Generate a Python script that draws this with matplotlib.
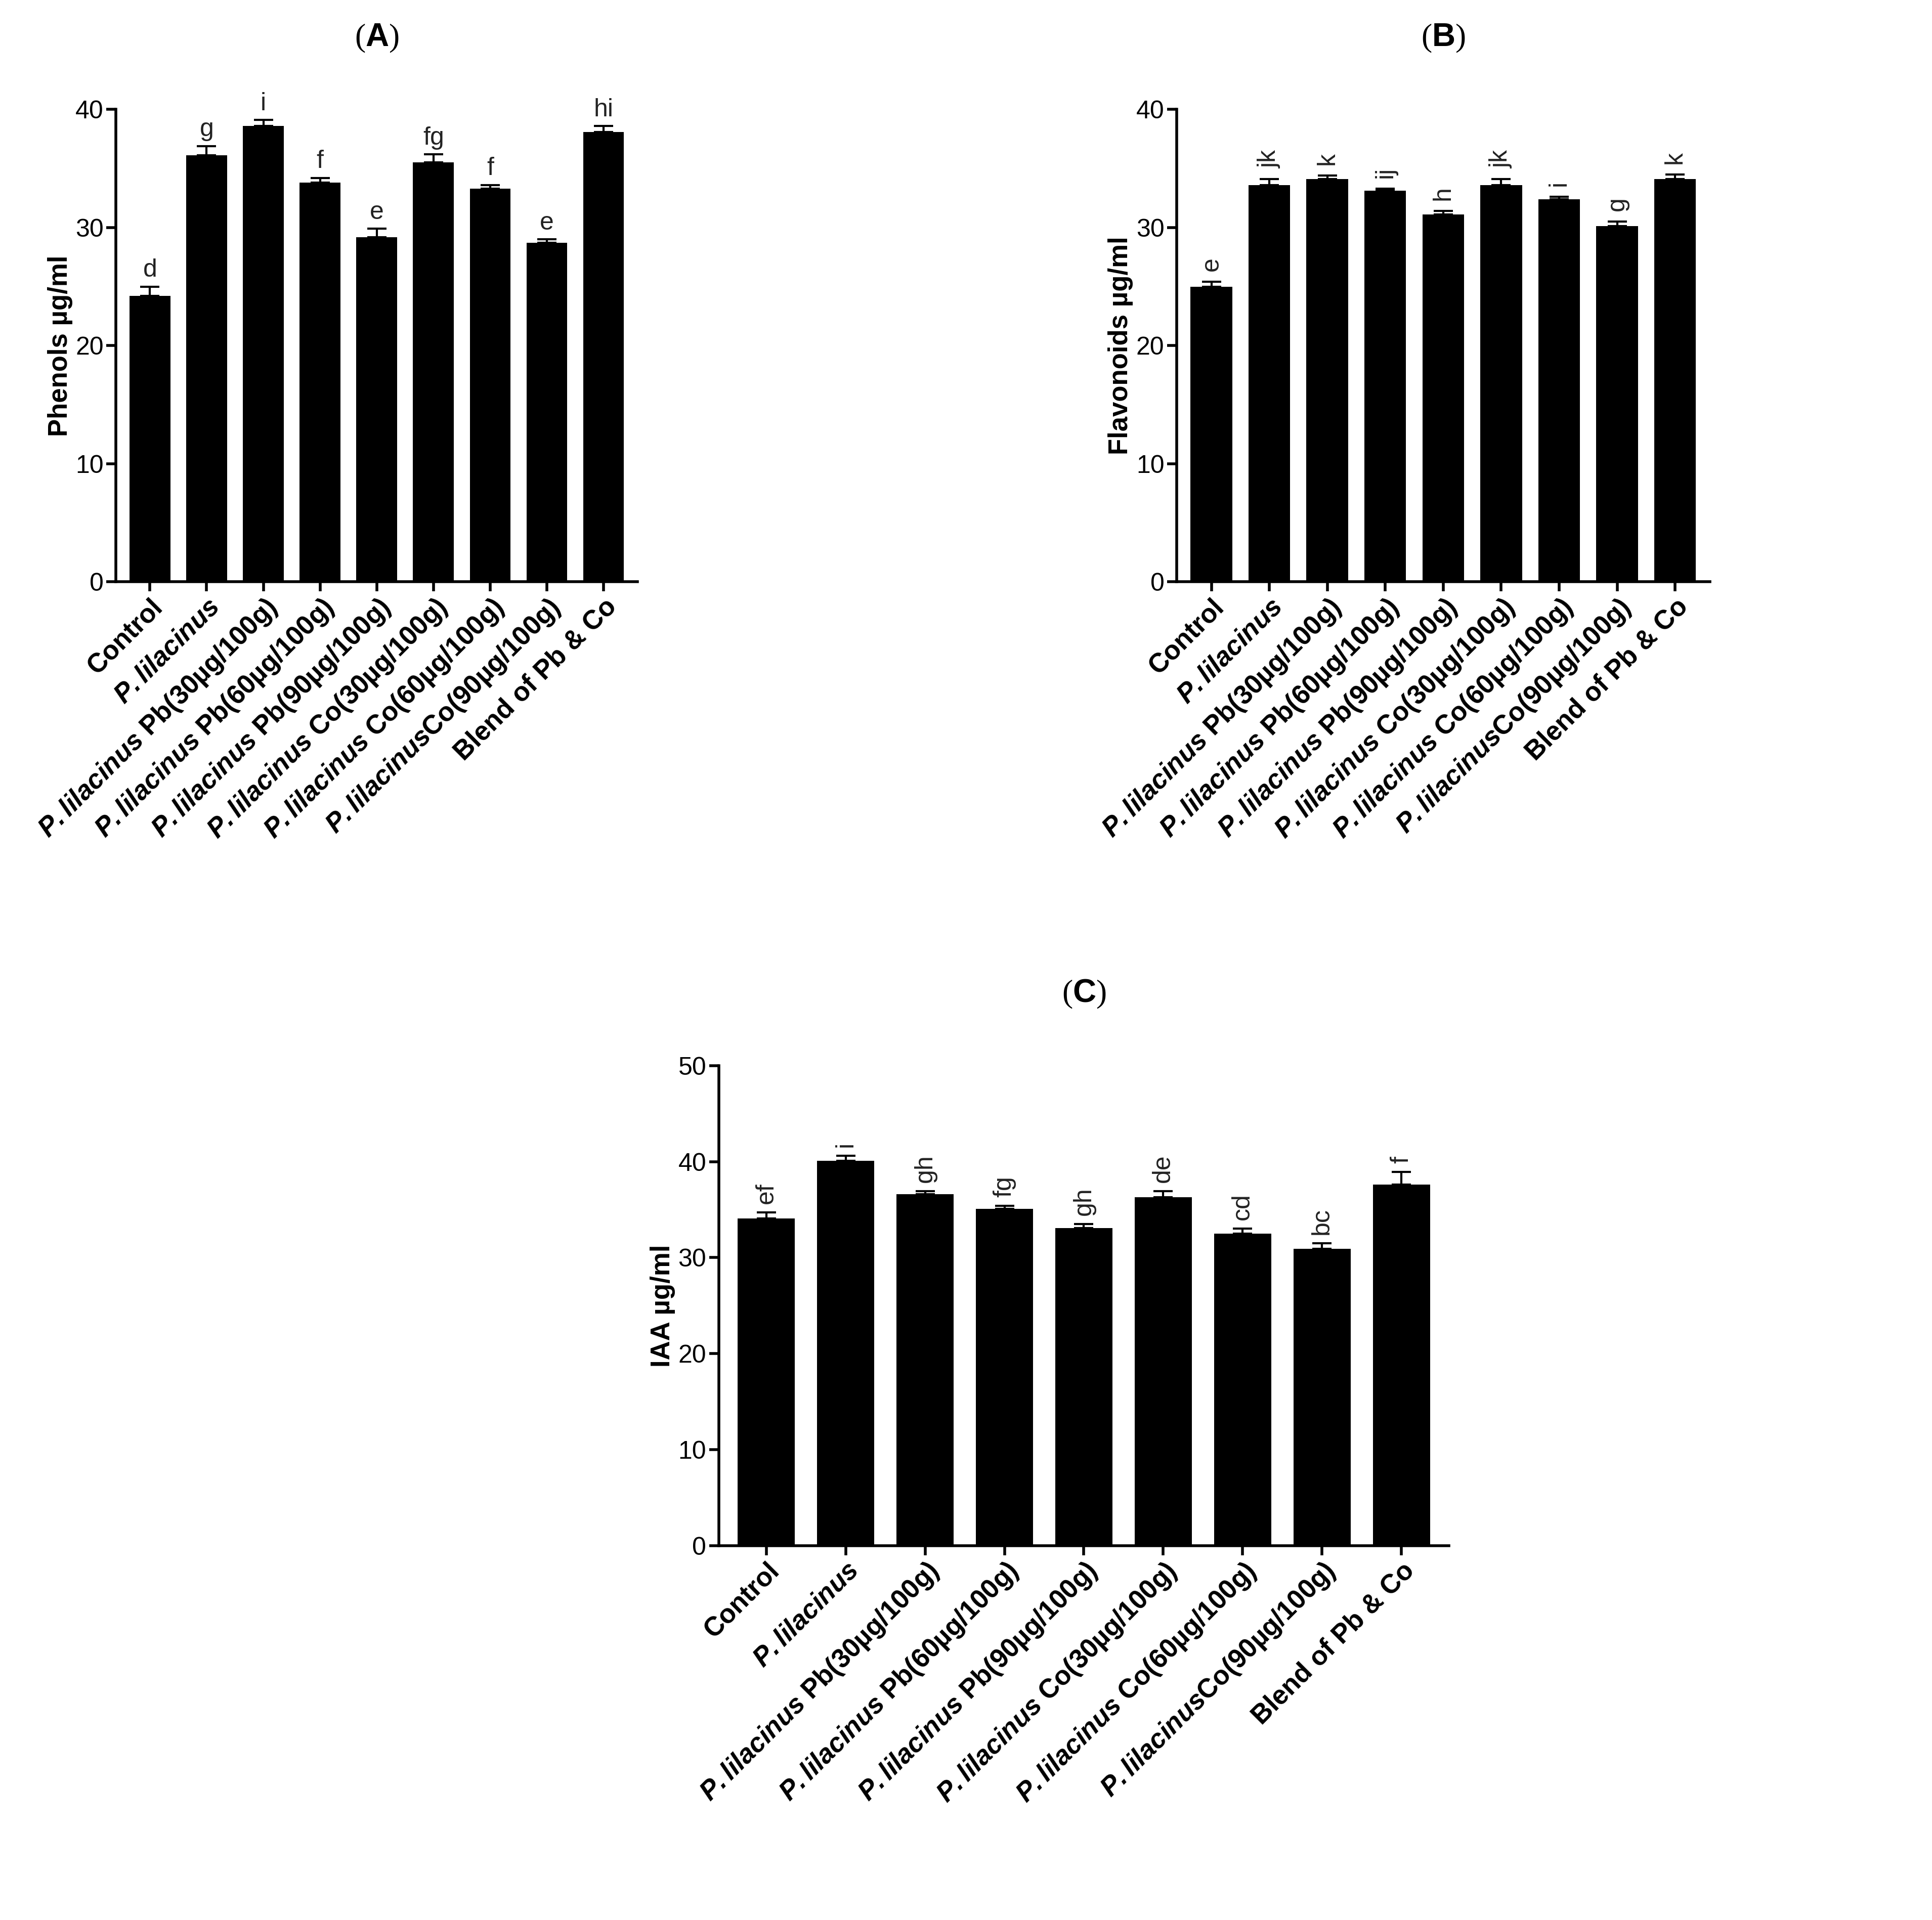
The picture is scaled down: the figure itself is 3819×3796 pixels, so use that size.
import matplotlib
matplotlib.use("Agg")
import matplotlib.pyplot as plt
import numpy as np

plt.rcParams["font.family"] = ["Liberation Sans", "DejaVu Sans"]
plt.rcParams["mathtext.fontset"] = "custom"
plt.rcParams["mathtext.rm"] = "Liberation Sans"
plt.rcParams["mathtext.bf"] = "Liberation Sans:bold"
plt.rcParams["mathtext.it"] = "Liberation Sans:italic"
plt.rcParams["mathtext.bfit"] = "Liberation Sans:bold:italic"

# group names
categories = ["Control", "P.lilacinus",
              "P.lilacinus Pb(30µg/100g)", "P.lilacinus Pb(60µg/100g)",
              "P.lilacinus Pb(90µg/100g)", "P.lilacinus Co(30µg/100g)",
              "P.lilacinus Co(60µg/100g)", "P.lilacinusCo(90µg/100g)",
              "Blend of Pb & Co"]

phenols = [24.2, 36.1, 38.6, 33.8, 29.2, 35.5, 33.3, 28.7, 38.1]
phenols_err = [0.8, 0.8, 0.5, 0.4, 0.7, 0.7, 0.3, 0.3, 0.5]
phenols_letters = ["d", "g", "i", "f", "e", "fg", "f", "e", "hi"]

flavonoids = [25.0, 33.6, 34.1, 33.1, 31.1, 33.6, 32.4, 30.1, 34.1]
flavonoids_err = [0.4, 0.5, 0.3, 0.2, 0.3, 0.5, 0.2, 0.4, 0.4]
flavonoids_letters = ["e", "jk", "k", "ij", "h", "jk", "i", "g", "k"]

iaa = [34.1, 40.1, 36.6, 35.1, 33.1, 36.3, 32.5, 30.9, 37.6]
iaa_err = [0.6, 0.5, 0.3, 0.3, 0.4, 0.6, 0.5, 0.6, 1.3]
iaa_letters = ["ef", "i", "gh", "fg", "gh", "de", "cd", "bc", "f"]


def fmt_label(name):
    # italic bold species name, rest bold
    if name.startswith("P.lilacinus"):
        rest = name[len("P.lilacinus"):]
        label = r"$\mathbfit{P{.}lilacinus}$"
        if rest:
            rest = rest.replace(" ", r"\ ").replace("&", r"\&")
            label += r"$\mathbf{" + rest + "}$"
        return label
    return name


fig = plt.figure(figsize=(38.19, 37.96), dpi=100)


def panel(rect, values, errs, letters, ylabel, ymax, title, rot_letters):
    ax = fig.add_axes(rect)
    x = np.arange(len(values))
    ax.bar(x, values, width=0.72, color="black")
    ax.errorbar(x, values, yerr=[np.zeros(len(errs)), errs], fmt="none",
                ecolor="black", elinewidth=3, capsize=14, capthick=3)
    for xi, v, e, t in zip(x, values, errs, letters):
        off = 0.9 if rot_letters else 0.4
        ax.text(xi, v + e + off, t, ha="center", va="bottom", fontsize=36,
                rotation=90 if rot_letters else 0, color="#222222")
    ax.set_xlim(-0.6, len(values) - 0.4)
    ax.set_ylim(0, ymax)
    ax.set_yticks(np.arange(0, ymax + 1, 10))
    ax.set_xticks(x)
    ax.set_xticklabels([fmt_label(c) for c in categories], rotation=45,
                       ha="right", rotation_mode="anchor", fontsize=38,
                       fontweight="bold")
    ax.set_ylabel(ylabel, fontsize=38, fontweight="bold")
    for s in ["top", "right"]:
        ax.spines[s].set_visible(False)
    for s in ["left", "bottom"]:
        ax.spines[s].set_linewidth(4)
    ax.tick_params(axis="both", width=4, length=14, labelsize=36)
    ax.tick_params(axis="x", labelsize=38)
    ax.set_title(title, fontsize=46, family="Liberation Serif", pad=90)
    return ax


panel([0.06, 0.697, 0.27, 0.246], phenols, phenols_err, phenols_letters,
      "Phenols µg/ml", 40, r"($\mathbf{A}$)", False)
panel([0.609, 0.697, 0.276, 0.246], flavonoids, flavonoids_err, flavonoids_letters,
      "Flavonoids µg/ml", 40, r"($\mathbf{B}$)", True)
panel([0.372, 0.195, 0.378, 0.25], iaa, iaa_err, iaa_letters,
      "IAA µg/ml", 50, r"($\mathbf{C}$)", True)

fig.savefig("out.png", dpi=100)
